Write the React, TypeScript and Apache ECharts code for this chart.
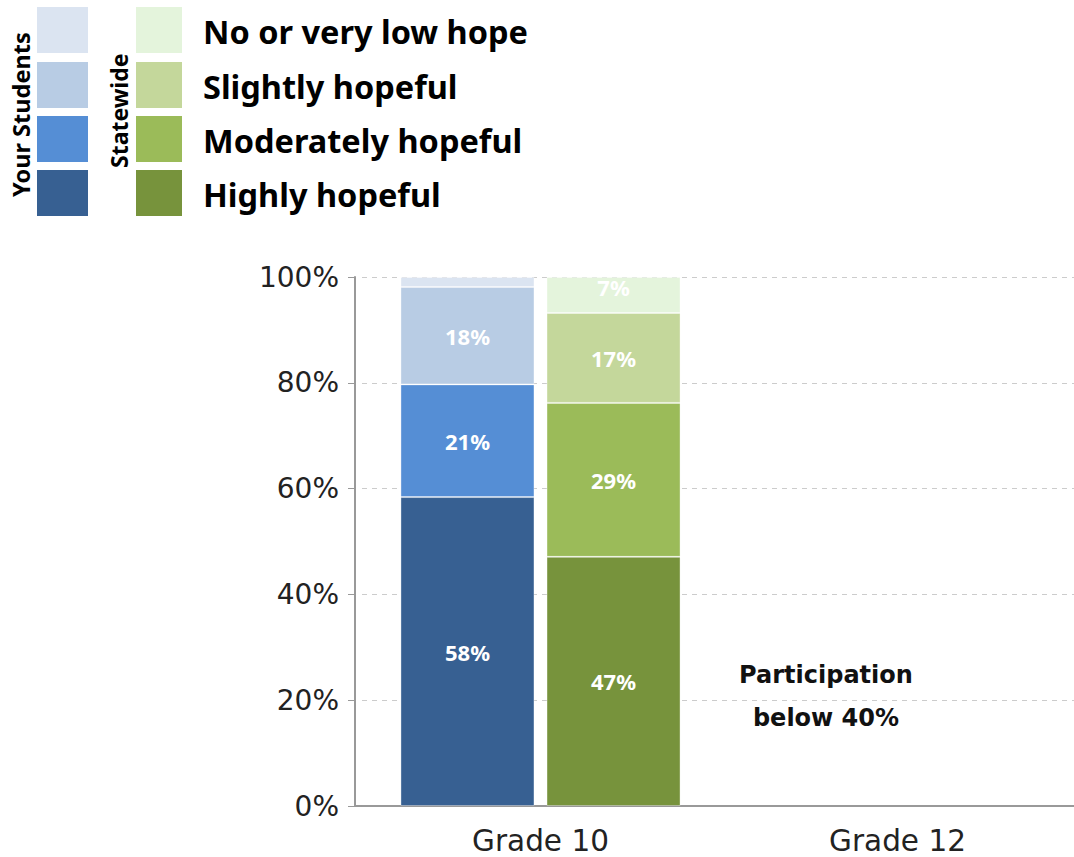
import React, { useEffect, useRef } from "react";
import * as echarts from "echarts";

const categories = ["Grade 10", "Grade 12"];
const levels = ["Highly hopeful", "Moderately hopeful", "Slightly hopeful", "No or very low hope"];
const yourStudents = [
  [58.4, null],
  [21.3, null],
  [18.4, null],
  [1.9, null],
];
const statewide = [
  [47.1, null],
  [29.1, null],
  [17.0, null],
  [6.8, null],
];
const blueColors = ["#376092", "#558ed5", "#b8cce4", "#dbe4f1"];
const greenColors = ["#77933c", "#9bbb59", "#c4d79b", "#e4f4dc"];
const yTicks = [0, 20, 40, 60, 80, 100];
const note = "Participation\nbelow 40%";

const FONT = "'Noto Sans', 'Open Sans', sans-serif";
const AXFONT = "'DejaVu Sans', sans-serif";

export default function App() {
  const ref = useRef<HTMLDivElement>(null);
  useEffect(() => {
    if (!ref.current) return;
    const chart = echarts.init(ref.current, undefined, { renderer: "svg" });
    const series: any[] = [];
    const mk = (name: string, stack: string, data: any[], color: string, showLabel: boolean, offY: number) => ({
      type: "bar",
      name,
      stack,
      data,
      barWidth: 134,
      barGap: "9%",
      itemStyle: { color, borderColor: "rgba(255,255,255,0.35)", borderWidth: 1 },
      label: {
        show: showLabel,
        position: "inside",
        offset: [0, offY],
        color: "#ffffff",
        fontFamily: FONT,
        fontWeight: "bold",
        fontSize: 22,
        formatter: (p: any) => (p.value == null ? "" : Math.round(p.value) + "%"),
      },
    });
    levels.forEach((lv, i) => {
      series.push(mk("Your Students - " + lv, "ys", yourStudents[i], blueColors[i], i < 3, 0));
    });
    levels.forEach((lv, i) => {
      series.push(mk("Statewide - " + lv, "sw", statewide[i], greenColors[i], true, i === 3 ? -8 : 0));
    });

    const graphics: any[] = [];
    const swY = [7, 62, 116, 170];
    const order = [3, 2, 1, 0];
    order.forEach((li, k) => {
      graphics.push({ type: "rect", left: 37, top: swY[k], shape: { width: 51, height: 46 }, style: { fill: blueColors[li] } });
      graphics.push({ type: "rect", left: 136, top: swY[k], shape: { width: 46, height: 46 }, style: { fill: greenColors[li] } });
      graphics.push({
        type: "text",
        x: 203,
        y: swY[k] + 24,
        style: { text: levels[li], font: `bold 32.5px ${FONT}`, fill: "#000", align: "left", verticalAlign: "middle" },
      });
    });
    graphics.push({
      type: "text",
      x: 9,
      y: 197,
      rotation: Math.PI / 2,
      style: { text: "Your Students", font: `bold 23.5px ${FONT}`, fill: "#000", align: "left", verticalAlign: "top" },
    });
    graphics.push({
      type: "text",
      x: 107,
      y: 168,
      rotation: Math.PI / 2,
      style: { text: "Statewide", font: `bold 23px ${FONT}`, fill: "#000", align: "left", verticalAlign: "top" },
    });
    graphics.push({
      type: "text",
      x: 826,
      y: 696,
      style: { text: note, font: `bold 24px ${AXFONT}`, fill: "#111", align: "center", verticalAlign: "middle", lineHeight: 43 },
    });
    graphics.push({
      type: "line",
      shape: { x1: 354, y1: 806, x2: 363, y2: 806 },
      style: { stroke: "#999", lineWidth: 2 },
    });

    chart.setOption({
      animation: false,
      grid: { left: 362, right: -2, top: 277, bottom: 51, outerBoundsMode: "none", containLabel: false },
      xAxis: {
        type: "category",
        data: categories,
        axisLine: { lineStyle: { color: "#999", width: 2 } },
        axisTick: { show: false },
        axisLabel: { color: "#222", fontFamily: AXFONT, fontSize: 29.5, margin: 20 },
      },
      yAxis: {
        type: "value",
        min: 0,
        max: 100,
        interval: 20,
        offset: 7,
        axisLine: { show: true, lineStyle: { color: "#999", width: 2 } },
        axisTick: { show: true, length: 7, lineStyle: { color: "#999" } },
        splitLine: { lineStyle: { color: "#ccc", type: [5, 5] } },
        axisLabel: {
          color: "#222",
          fontFamily: AXFONT,
          fontSize: 28,
          margin: 16,
          formatter: (v: number) => (yTicks.includes(v) ? v + "%" : ""),
        },
      },
      series,
      graphic: graphics,
    });
    return () => chart.dispose();
  }, []);
  return <div ref={ref} style={{ width: 1074, height: 857, position: "absolute", left: 0, top: 0 }} />;
}
